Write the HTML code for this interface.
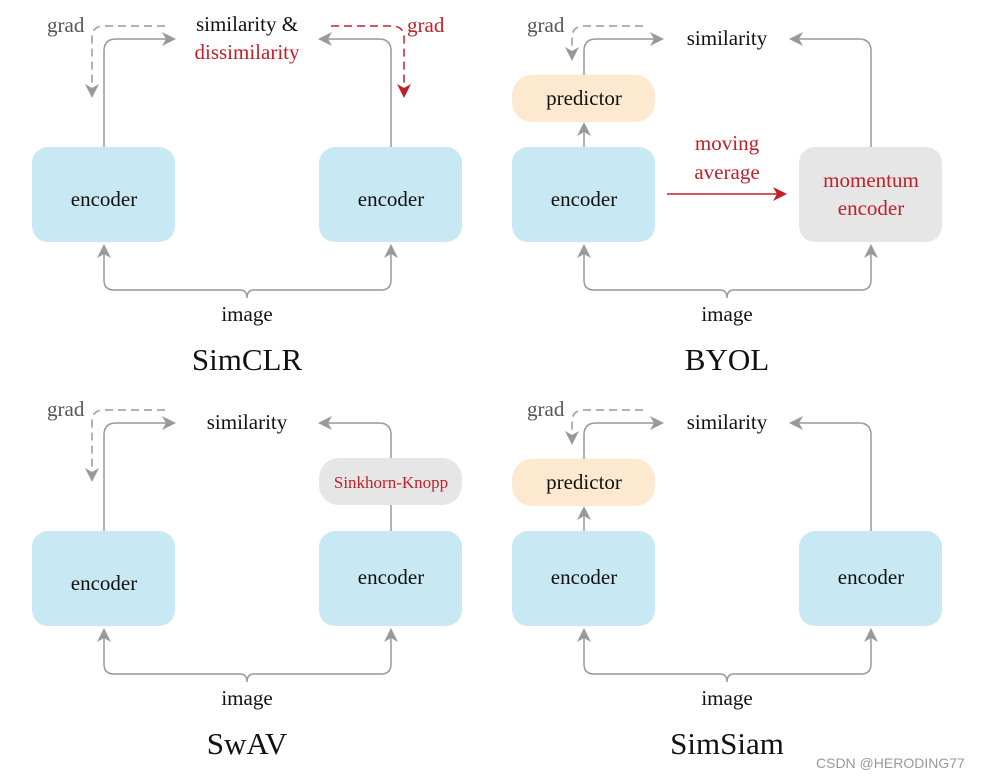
<!DOCTYPE html>
<html><head><meta charset="utf-8"><style>
html,body{margin:0;padding:0;background:#fff;}
svg{display:block;}
text{font-family:"Liberation Serif",serif;}
</style></head><body>
<svg width="988" height="778" viewBox="0 0 988 778" xmlns="http://www.w3.org/2000/svg">
<defs>
<g id="ar"><polygon points="0,0 -14,-7 -10,0 -14,7"/></g>
</defs>
<g fill="none" stroke="#999" stroke-width="1.5">
<!-- SimCLR -->
<path d="M104 147 V51 Q104 39 116 39 H168"/>
<path d="M391 147 V51 Q391 39 379 39 H327"/>
<path d="M165 26 H104 Q92 26 92 38 V88" stroke-dasharray="8,5"/>
<path d="M331 26 H392 Q404 26 404 38 V88" stroke="#c0202a" stroke-dasharray="8,5"/>
<path d="M104 254 V280 Q104 290 114 290 H240 Q247 290 247 298 Q247 290 254 290 H381 Q391 290 391 280 V254"/>
<!-- BYOL -->
<path d="M584 147 V132"/>
<path d="M584 75 V51 Q584 39 596 39 H656"/>
<path d="M871 147 V51 Q871 39 859 39 H798"/>
<path d="M643 26 H584 Q572 26 572 38 V52" stroke-dasharray="8,5"/>
<path d="M667 194 H778" stroke="#c0202a"/>
<path d="M584 254 V280 Q584 290 594 290 H720 Q727 290 727 298 Q727 290 734 290 H861 Q871 290 871 280 V254"/>
<!-- SwAV -->
<path d="M104 531 V435 Q104 423 116 423 H168"/>
<path d="M391 531 V505 M391 458 V435 Q391 423 379 423 H327"/>
<path d="M165 410 H104 Q92 410 92 422 V472" stroke-dasharray="8,5"/>
<path d="M104 638 V664 Q104 674 114 674 H240 Q247 674 247 682 Q247 674 254 674 H381 Q391 674 391 664 V638"/>
<!-- SimSiam -->
<path d="M584 531 V516"/>
<path d="M584 459 V435 Q584 423 596 423 H656"/>
<path d="M871 531 V435 Q871 423 859 423 H798"/>
<path d="M643 410 H584 Q572 410 572 422 V436" stroke-dasharray="8,5"/>
<path d="M584 638 V664 Q584 674 594 674 H720 Q727 674 727 682 Q727 674 734 674 H861 Q871 674 871 664 V638"/>
</g>
<g fill="#999">
<use href="#ar" transform="translate(176,39)"/>
<use href="#ar" transform="translate(318,39) rotate(180)"/>
<use href="#ar" transform="translate(92,98) rotate(90)"/>
<use href="#ar" transform="translate(104,244) rotate(-90)"/>
<use href="#ar" transform="translate(391,244) rotate(-90)"/>
<use href="#ar" transform="translate(584,122) rotate(-90)"/>
<use href="#ar" transform="translate(664,39)"/>
<use href="#ar" transform="translate(789,39) rotate(180)"/>
<use href="#ar" transform="translate(572,61) rotate(90)"/>
<use href="#ar" transform="translate(584,244) rotate(-90)"/>
<use href="#ar" transform="translate(871,244) rotate(-90)"/>
<use href="#ar" transform="translate(176,423)"/>
<use href="#ar" transform="translate(318,423) rotate(180)"/>
<use href="#ar" transform="translate(92,482) rotate(90)"/>
<use href="#ar" transform="translate(104,628) rotate(-90)"/>
<use href="#ar" transform="translate(391,628) rotate(-90)"/>
<use href="#ar" transform="translate(584,506) rotate(-90)"/>
<use href="#ar" transform="translate(664,423)"/>
<use href="#ar" transform="translate(789,423) rotate(180)"/>
<use href="#ar" transform="translate(572,445) rotate(90)"/>
<use href="#ar" transform="translate(584,628) rotate(-90)"/>
<use href="#ar" transform="translate(871,628) rotate(-90)"/>
</g>
<g fill="#c0202a">
<use href="#ar" transform="translate(404,98) rotate(90)"/>
<use href="#ar" transform="translate(787,194)"/>
</g>
<!-- boxes -->
<g>
<rect x="32" y="147" width="143" height="95" rx="16" fill="#c8e9f3"/>
<rect x="319" y="147" width="143" height="95" rx="16" fill="#c8e9f3"/>
<rect x="512" y="147" width="143" height="95" rx="16" fill="#c8e9f3"/>
<rect x="799" y="147" width="143" height="95" rx="16" fill="#e6e6e6"/>
<rect x="512" y="75" width="143" height="47" rx="20" fill="#fde8d0"/>
<rect x="32" y="531" width="143" height="95" rx="16" fill="#c8e9f3"/>
<rect x="319" y="531" width="143" height="95" rx="16" fill="#c8e9f3"/>
<rect x="319" y="458" width="143" height="47" rx="20" fill="#e6e6e6"/>
<rect x="512" y="531" width="143" height="95" rx="16" fill="#c8e9f3"/>
<rect x="799" y="531" width="143" height="95" rx="16" fill="#c8e9f3"/>
<rect x="512" y="459" width="143" height="47" rx="20" fill="#fde8d0"/>
</g>
<g font-size="21" text-anchor="middle" fill="#111">
<text x="104" y="206">encoder</text>
<text x="391" y="206">encoder</text>
<text x="584" y="206">encoder</text>
<text x="584" y="105">predictor</text>
<text x="104" y="590">encoder</text>
<text x="391" y="584">encoder</text>
<text x="584" y="584">encoder</text>
<text x="871" y="584">encoder</text>
<text x="584" y="489">predictor</text>
<text x="247" y="31">similarity &amp;</text>
<text x="727" y="45">similarity</text>
<text x="247" y="429">similarity</text>
<text x="727" y="429">similarity</text>
<text x="247" y="321">image</text>
<text x="727" y="321">image</text>
<text x="247" y="705">image</text>
<text x="727" y="705">image</text>
</g>
<g font-size="21" text-anchor="middle" fill="#c0202a">
<text x="247" y="59">dissimilarity</text>
<text x="727" y="150">moving</text>
<text x="727" y="179">average</text>
<text x="871" y="187">momentum</text>
<text x="871" y="215">encoder</text>
<text x="391" y="488" font-size="17">Sinkhorn-Knopp</text>
</g>
<g font-size="21" fill="#555">
<text x="47" y="32">grad</text>
<text x="527" y="32">grad</text>
<text x="47" y="416">grad</text>
<text x="527" y="416">grad</text>
</g>
<text x="407" y="32" font-size="21" fill="#c0202a">grad</text>
<g font-size="31" text-anchor="middle" fill="#111">
<text x="247" y="370">SimCLR</text>
<text x="727" y="370">BYOL</text>
<text x="247" y="754">SwAV</text>
<text x="727" y="754">SimSiam</text>
</g>
<text x="816" y="768" font-size="14" fill="#999" style="font-family:'Liberation Sans',sans-serif">CSDN @HERODING77</text>
</svg>
</body></html>
